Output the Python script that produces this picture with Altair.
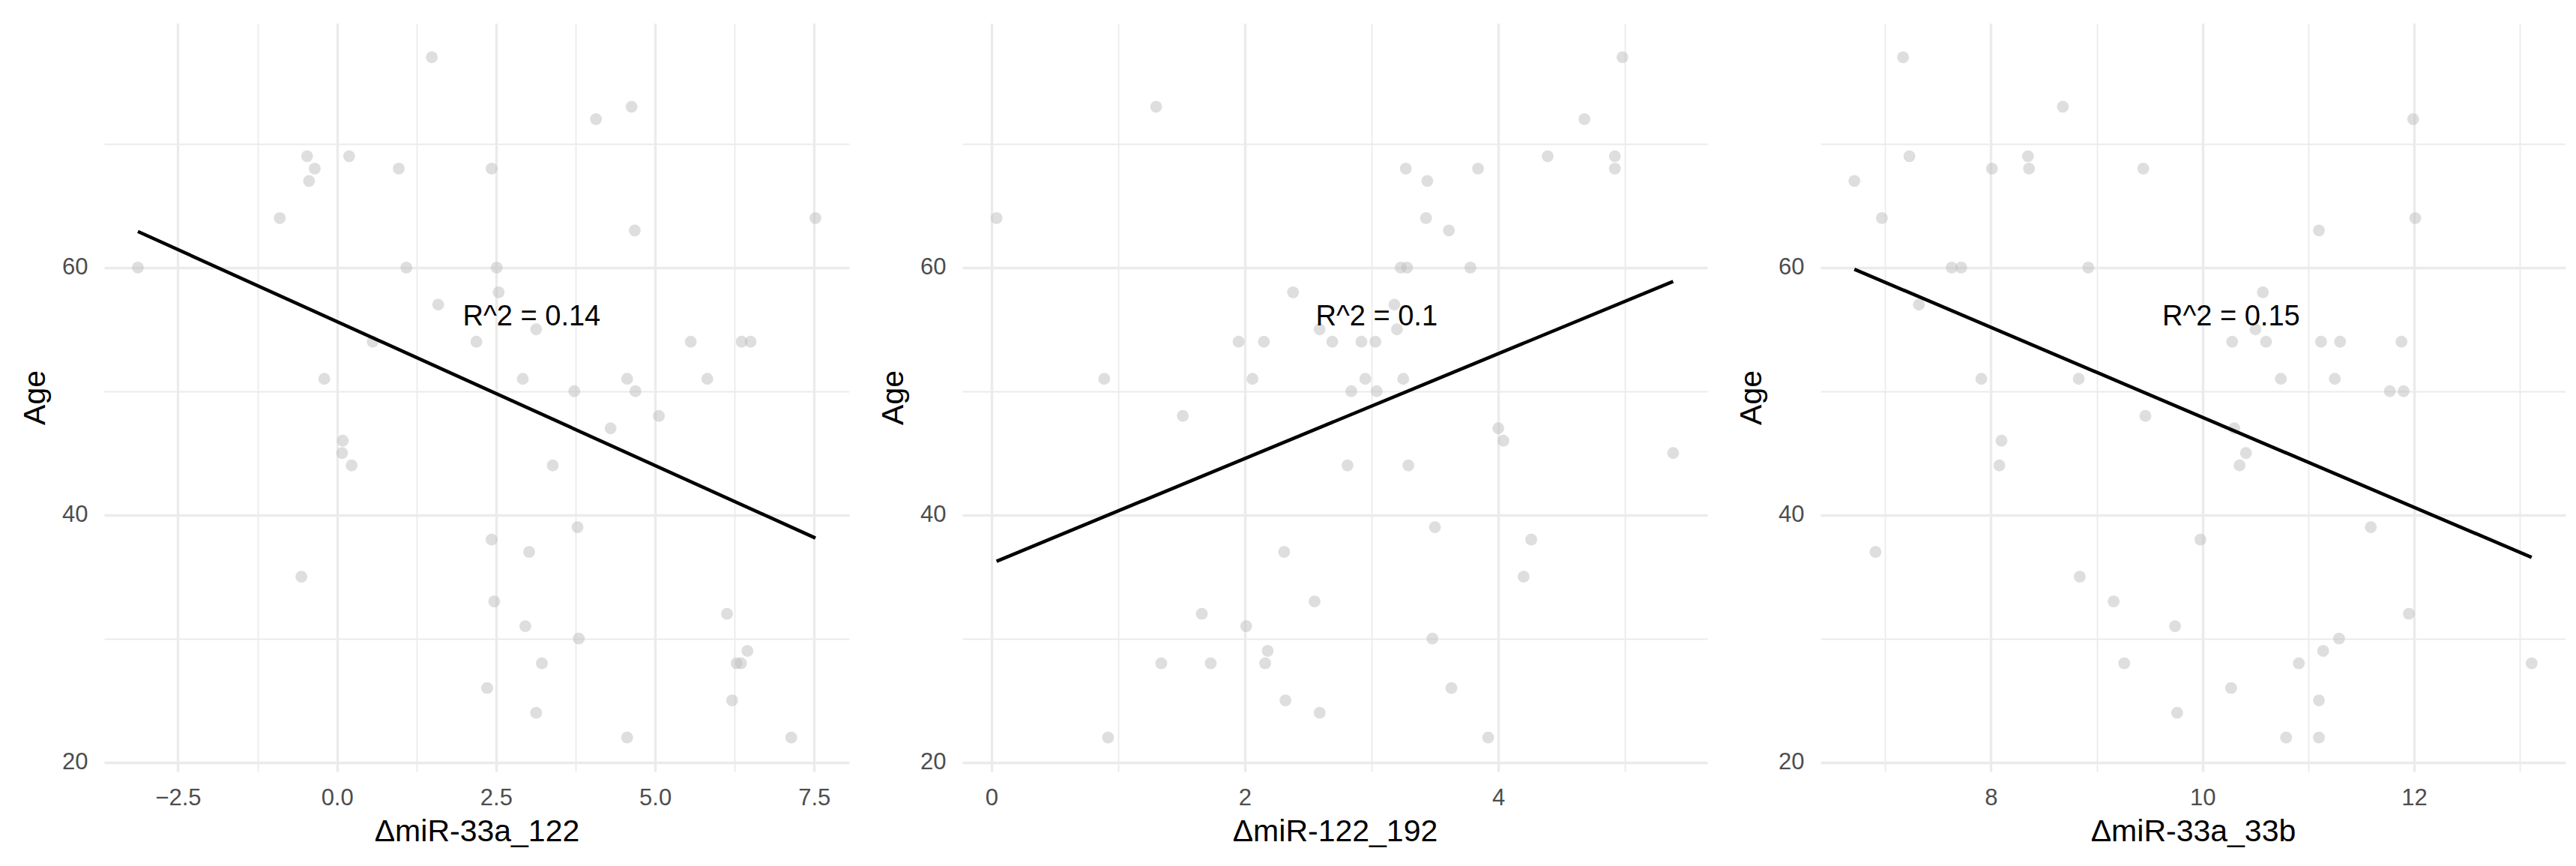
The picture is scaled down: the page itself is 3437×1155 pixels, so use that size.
import altair as alt
import pandas as pd

# ---------------- data ----------------
p1_x = [1.49, 4.63, 4.07, -0.47, 0.19, -0.35, 0.97, 2.43, -0.44, -0.90, 7.52, 4.68,
        -3.13, 1.09, 2.51, 2.54, 1.59, 3.13, 0.56, 2.19, 5.56, 6.36, 6.50, -0.20,
        2.92, 4.56, 5.82, 3.73, 4.69, 5.06, 4.30, 0.09, 0.08, 0.23, 3.39, 3.78,
        2.43, 3.02, -0.56, 2.47, 6.13, 2.96, 3.80, 6.45, 3.22, 6.28, 6.35, 2.36,
        6.21, 3.13, 4.56, 7.14]
p1_age = [77, 73, 72, 69, 69, 68, 68, 68, 67, 64, 64, 63, 60, 60, 60, 58, 57, 55,
          54, 54, 54, 54, 54, 51, 51, 51, 51, 50, 50, 48, 47, 46, 45, 44, 44, 39,
          38, 37, 35, 33, 32, 31, 30, 29, 28, 28, 28, 26, 25, 24, 22, 22]

p2_x = [4.98, 1.30, 4.68, 4.39, 4.92, 3.27, 3.84, 4.92, 3.44, 0.04, 3.43, 3.61,
        3.23, 3.28, 3.78, 2.38, 3.18, 2.59, 3.20, 1.95, 2.15, 2.69, 2.92, 3.03,
        0.89, 2.06, 2.95, 3.25, 2.84, 3.04, 1.51, 4.00, 4.04, 5.38, 2.81, 3.29,
        3.50, 4.26, 2.31, 4.20, 2.55, 1.66, 2.01, 3.48, 2.18, 1.34, 1.73, 2.16,
        3.63, 2.32, 2.59, 0.92, 3.92]
p2_age = [77, 73, 72, 69, 69, 68, 68, 68, 67, 64, 64, 63, 60, 60, 60, 58, 57, 55,
          55, 54, 54, 54, 54, 54, 51, 51, 51, 51, 50, 50, 48, 47, 46, 45, 44, 44,
          39, 38, 37, 35, 33, 32, 31, 30, 29, 28, 28, 28, 26, 25, 24, 22, 22]

p3_x = [7.17, 8.68, 11.99, 7.23, 8.35, 8.01, 8.36, 9.44, 6.71, 6.97, 12.01, 11.10,
        7.63, 7.72, 8.92, 10.57, 7.32, 10.50, 10.28, 10.60, 11.12, 11.30, 11.88,
        7.91, 8.83, 10.74, 11.25, 11.77, 11.90, 9.46, 10.30, 8.10, 10.41, 8.08,
        10.35, 11.59, 9.98, 6.91, 8.84, 9.16, 11.95, 9.74, 11.29, 11.14, 9.26,
        10.91, 13.11, 10.27, 11.10, 9.76, 10.79, 11.10]
p3_age = [77, 73, 72, 69, 69, 68, 68, 68, 67, 64, 64, 63, 60, 60, 60, 58, 57, 55,
          54, 54, 54, 54, 54, 51, 51, 51, 51, 50, 50, 48, 47, 46, 45, 44, 44, 39,
          38, 37, 35, 33, 32, 31, 30, 29, 28, 28, 28, 26, 25, 24, 22, 22]

x_titles = ["\u0394miR-33a_122", "\u0394miR-122_192", "\u0394miR-33a_33b"]
r2_labels = ["R^2 = 0.14", "R^2 = 0.1", "R^2 = 0.15"]
r2_pos_x = [3.06, 3.04, 10.27]
r2_pos_y = [56, 56, 56]

x_domains = [[-3.66, 8.05], [-0.23, 5.65], [6.39, 13.43]]
x_major = [[-2.5, 0.0, 2.5, 5.0, 7.5], [0, 2, 4], [8, 10, 12]]
x_minor = [[-1.25, 1.25, 3.75, 6.25], [1, 3, 5], [7, 9, 11, 13]]
x_formats = [".1f", "d", "d"]

y_domain = [19.25, 79.75]
y_major = [20, 40, 60]
y_minor = [30, 50, 70]

FONT = "Liberation Sans"
W, H = 994, 998
GRID = "#ebebeb"


def panel(xs, ages, title, label, lx, ly, xdom, xmaj, xmin, fmt):
    df = pd.DataFrame({"x": xs, "age": ages})
    maj_js = "[" + ",".join(str(v) for v in xmaj) + "]"
    x_axis = alt.Axis(
        title=title,
        values=sorted(xmaj + xmin),
        labelExpr=f"indexof({maj_js}, datum.value) >= 0 ? format(datum.value, '{fmt}') : ''",
        gridWidth={"expr": f"indexof({maj_js}, datum.value) >= 0 ? 3.4 : 1.8"},
        gridColor=GRID,
        domain=False, ticks=False,
        labelFont=FONT, labelFontSize=31, labelColor="#4d4d4d", labelPadding=20,
        labelFlush=False, labelOverlap=False,
        titleFont=FONT, titleFontSize=41, titleFontWeight="normal", titleColor="#000000",
        titlePadding=10,
    )
    y_axis = alt.Axis(
        title="Age",
        values=sorted(y_major + y_minor),
        labelExpr="datum.value % 20 == 0 ? format(datum.value, 'd') : ''",
        gridWidth={"expr": "datum.value % 20 == 0 ? 3.4 : 1.8"},
        gridColor=GRID,
        domain=False, ticks=False,
        labelFont=FONT, labelFontSize=31, labelColor="#4d4d4d", labelPadding=22,
        labelFlush=False, labelOverlap=False,
        minExtent=57, maxExtent=57,
        titleFont=FONT, titleFontSize=41, titleFontWeight="normal", titleColor="#000000",
        titlePadding=14,
    )
    xs_ = alt.Scale(domain=xdom, nice=False, zero=False)
    ys_ = alt.Scale(domain=y_domain, nice=False, zero=False)

    pts = alt.Chart(df).mark_circle(size=250, color="#bebebe", opacity=0.5).encode(
        x=alt.X("x:Q", scale=xs_, axis=x_axis),
        y=alt.Y("age:Q", scale=ys_, axis=y_axis),
    )
    fit = alt.Chart(df).transform_regression("x", "age").mark_line(
        color="#000000", strokeWidth=4.6
    ).encode(x=alt.X("x:Q", scale=xs_), y=alt.Y("age:Q", scale=ys_))
    txt = alt.Chart(pd.DataFrame({"x": [lx], "age": [ly], "t": [label]})).mark_text(
        font=FONT, fontSize=38, color="#000000", align="center", baseline="middle"
    ).encode(x=alt.X("x:Q", scale=xs_), y=alt.Y("age:Q", scale=ys_), text="t:N")
    return alt.layer(pts, fit, txt).properties(width=W, height=H)


panels = []
for i, (xs, ages) in enumerate([(p1_x, p1_age), (p2_x, p2_age), (p3_x, p3_age)]):
    panels.append(panel(xs, ages, x_titles[i], r2_labels[i], r2_pos_x[i], r2_pos_y[i],
                        x_domains[i], x_major[i], x_minor[i], x_formats[i]))

chart = alt.hconcat(*panels, spacing=38).properties(
    padding={"left": 18, "top": 23, "right": 5, "bottom": 5},
    background="white",
).configure_view(stroke="transparent", strokeWidth=0)

chart.save("out.html", embed_options={"renderer": "svg", "actions": False})
